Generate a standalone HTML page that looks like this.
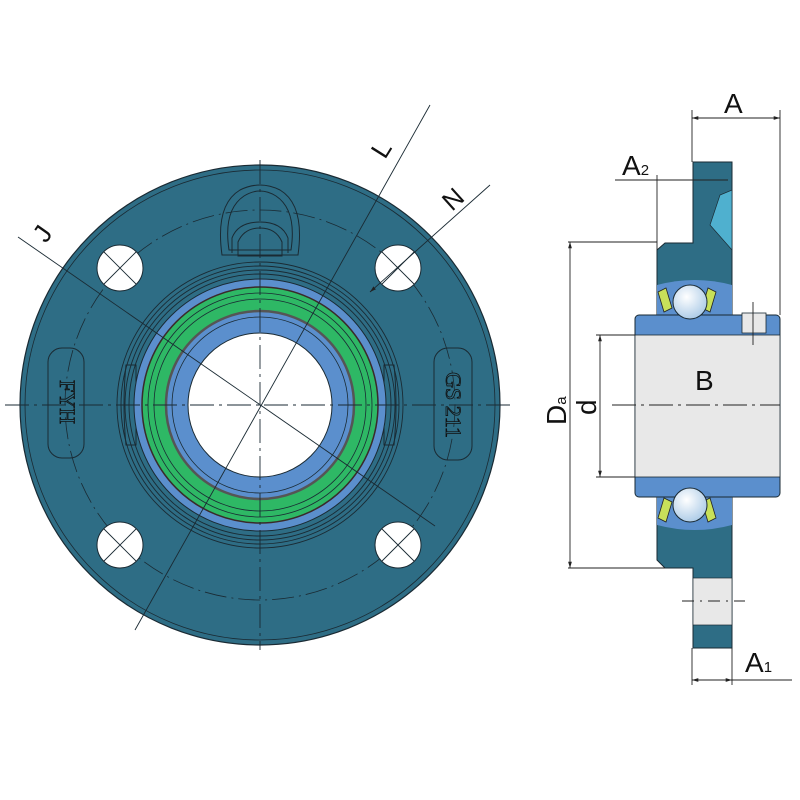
<!DOCTYPE html>
<html><head><meta charset="utf-8"><style>body{margin:0;background:#fff}svg{display:block}</style></head><body>
<svg width="800" height="800" viewBox="0 0 800 800" xmlns="http://www.w3.org/2000/svg" font-family="Liberation Sans, sans-serif">
<defs>
<marker id="ar" viewBox="0 0 10 10" refX="10" refY="5" markerWidth="7" markerHeight="7" orient="auto-start-reverse"><path d="M0,2 L10,5 L0,8 z" fill="#222"/></marker>
<radialGradient id="ball" cx="0.4" cy="0.35" r="0.7"><stop offset="0" stop-color="#fff"/><stop offset="1" stop-color="#a9c9e6"/></radialGradient>
</defs>
<circle cx="260" cy="405" r="240" fill="#2e6d85" stroke="#1a2a33" stroke-width="1.2"/>
<circle cx="260" cy="405" r="235" fill="none" stroke="#1a2a33" stroke-width="0.8"/>
<circle cx="260" cy="405" r="195" fill="none" stroke="#1a2a33" stroke-width="0.8" stroke-dasharray="22,5,2,5"/>
<path d="M222,255 Q215,205 240,190 Q260,180 280,190 Q305,205 298,255 Z" fill="none" stroke="#1a2a33"/>
<path d="M229,250 Q223,210 244,196 Q260,186 276,196 Q297,210 291,250 Z" fill="none" stroke="#1a2a33"/>
<path d="M232,253 L232,238 Q238,222 260,222 Q282,222 288,238 L288,253" fill="none" stroke="#1a2a33"/>
<path d="M238,256 L238,242 Q244,228 260,228 Q276,228 282,242 L282,256 Z" fill="none" stroke="#1a2a33"/>
<rect x="48" y="348" width="36" height="110" rx="14" fill="none" stroke="#1a2a33"/>
<rect x="434" y="348" width="38" height="112" rx="14" fill="none" stroke="#1a2a33"/>
<text transform="translate(60,402) rotate(90)" font-family="Liberation Serif, serif" font-size="22" fill="#2e6d85" stroke="#111" stroke-width="0.8" text-anchor="middle">FYH</text>
<text transform="translate(446,405) rotate(90)" font-family="Liberation Serif, serif" font-size="22" fill="#2e6d85" stroke="#111" stroke-width="0.8" text-anchor="middle">GS 211</text>
<path d="M126,365 h10 v80 h-10 q-4,-40 0,-80z" fill="none" stroke="#1a2a33"/>
<path d="M394,365 h-10 v80 h10 q4,-40 0,-80z" fill="none" stroke="#1a2a33"/>
<g fill="none" stroke="#1a2a33" stroke-width="0.9">
<circle cx="260" cy="405" r="143"/><circle cx="260" cy="405" r="139"/><circle cx="260" cy="405" r="135"/><circle cx="260" cy="405" r="131"/>
</g>
<circle cx="260" cy="405" r="126" fill="#5b8fcd" stroke="#1a2a33"/>
<circle cx="260" cy="405" r="118" fill="#2eb865" stroke="#3a2a2a" stroke-width="1.5"/>
<circle cx="260" cy="405" r="112" fill="none" stroke="#1a2a33" stroke-width="0.8"/>
<circle cx="260" cy="405" r="106" fill="none" stroke="#1a2a33" stroke-width="0.8"/>
<circle cx="260" cy="405" r="94" fill="#5b8fcd" stroke="#555" stroke-width="2.5"/>
<circle cx="260" cy="405" r="88" fill="none" stroke="#1a2a33" stroke-width="0.8"/>
<circle cx="260" cy="405" r="72" fill="#fff" stroke="#1a2a33"/>
<g stroke="#1a2a33" stroke-width="1">
<circle cx="120" cy="268" r="23" fill="#fff"/><circle cx="398" cy="268" r="23" fill="#fff"/>
<circle cx="120" cy="545" r="23" fill="#fff"/><circle cx="398" cy="545" r="23" fill="#fff"/>
<path d="M104,252 L136,284 M136,252 L104,284 M382,252 L414,284 M414,252 L382,284 M104,529 L136,561 M136,529 L104,561 M382,529 L414,561 M414,529 L382,561" stroke-width="0.9"/>
</g>
<g stroke="#1a2a33" stroke-width="0.9" stroke-dasharray="24,5,3,5">
<line x1="5" y1="405" x2="515" y2="405"/><line x1="260" y1="160" x2="260" y2="650"/>
</g>
<g stroke="#1a2a33" stroke-width="0.9">
<line x1="18" y1="237" x2="435" y2="526"/>
<line x1="430" y1="105" x2="135" y2="630"/>
<line x1="490" y1="185" x2="370" y2="292" marker-end="url(#ar)"/>
</g>
<text transform="translate(46,244) rotate(-55)" font-size="26" fill="#111">J</text>
<text transform="translate(385,160) rotate(-58)" font-size="26" fill="#111">L</text>
<text transform="translate(452,212) rotate(-42)" font-size="26" fill="#111">N</text>

<path d="M693,162 L732,162 L732,648 L693,648 L693,568 L665,568 L657,560 L657,250 L665,243 L693,243 Z" fill="#2e6d85" stroke="#1a2a33"/>
<path d="M720,195 L710,225 L732,250 L732,190Z" fill="#4fb0cf" stroke="#1a2a33" stroke-width="0.7"/>
<rect x="693" y="578" width="39" height="47" fill="#e8e8e8" stroke="#1a2a33" stroke-width="0.7"/>
<path d="M657,285 Q695,275 732,285 L732,315 L657,315Z" fill="#5b8fcd"/>
<path d="M657,525 Q695,535 732,525 L732,497 L657,497Z" fill="#5b8fcd"/>
<rect x="635" y="315" width="145" height="182" rx="4" fill="#5b8fcd" stroke="#1a2a33"/>
<rect x="635" y="335" width="145" height="142" fill="#e8e8e8" stroke="#1a2a33" stroke-width="0.8"/>
<path d="M658,292 l8,-4 l6,20 l-8,4z M716,292 l-8,-4 l-6,20 l8,4z M658,518 l8,4 l6,-20 l-8,-4z M716,518 l-8,4 l-6,-20 l8,-4z" fill="#c7e05a" stroke="#222" stroke-width="0.8"/>
<circle cx="690" cy="302" r="17" fill="url(#ball)" stroke="#1a2a33"/>
<circle cx="690" cy="505" r="17" fill="url(#ball)" stroke="#1a2a33"/>
<rect x="742" y="313" width="24" height="20" fill="#e8e8e8" stroke="#1a2a33" stroke-width="0.8"/>
<g stroke="#222" stroke-width="0.9" fill="none">
<line x1="692" y1="110" x2="692" y2="162"/><line x1="780" y1="110" x2="780" y2="315"/>
<line x1="692" y1="118" x2="780" y2="118" marker-start="url(#ar)" marker-end="url(#ar)"/>
<line x1="657" y1="175" x2="657" y2="250"/>
<line x1="615" y1="180" x2="728" y2="180"/>
<line x1="568" y1="242" x2="657" y2="242"/><line x1="568" y1="568" x2="665" y2="568"/>
<line x1="570" y1="242" x2="570" y2="568" marker-start="url(#ar)" marker-end="url(#ar)"/>
<line x1="596" y1="335" x2="635" y2="335"/><line x1="596" y1="477" x2="635" y2="477"/>
<line x1="600" y1="335" x2="600" y2="477" marker-start="url(#ar)" marker-end="url(#ar)"/>
<line x1="612" y1="405" x2="780" y2="405" stroke-dasharray="24,5,3,5"/>
<line x1="692" y1="648" x2="692" y2="685"/><line x1="732" y1="648" x2="732" y2="685"/>
<line x1="692" y1="680" x2="732" y2="680" marker-start="url(#ar)" marker-end="url(#ar)"/>
<line x1="732" y1="680" x2="792" y2="680"/>
<line x1="753" y1="302" x2="753" y2="345"/>
<line x1="682" y1="601" x2="745" y2="601" stroke-dasharray="12,6,2,6"/>
</g>
<text x="724" y="113" font-size="28" fill="#111">A</text>
<text x="622" y="175" font-size="28" fill="#111">A<tspan font-size="15">2</tspan></text>
<text x="695" y="390" font-size="28" fill="#111">B</text>
<text transform="translate(566,425) rotate(-90)" font-size="28" fill="#111">D<tspan font-size="15">a</tspan></text>
<text transform="translate(596,415) rotate(-90)" font-size="28" fill="#111">d</text>
<text x="745" y="672" font-size="28" fill="#111">A<tspan font-size="15">1</tspan></text>
</svg>
</body></html>
